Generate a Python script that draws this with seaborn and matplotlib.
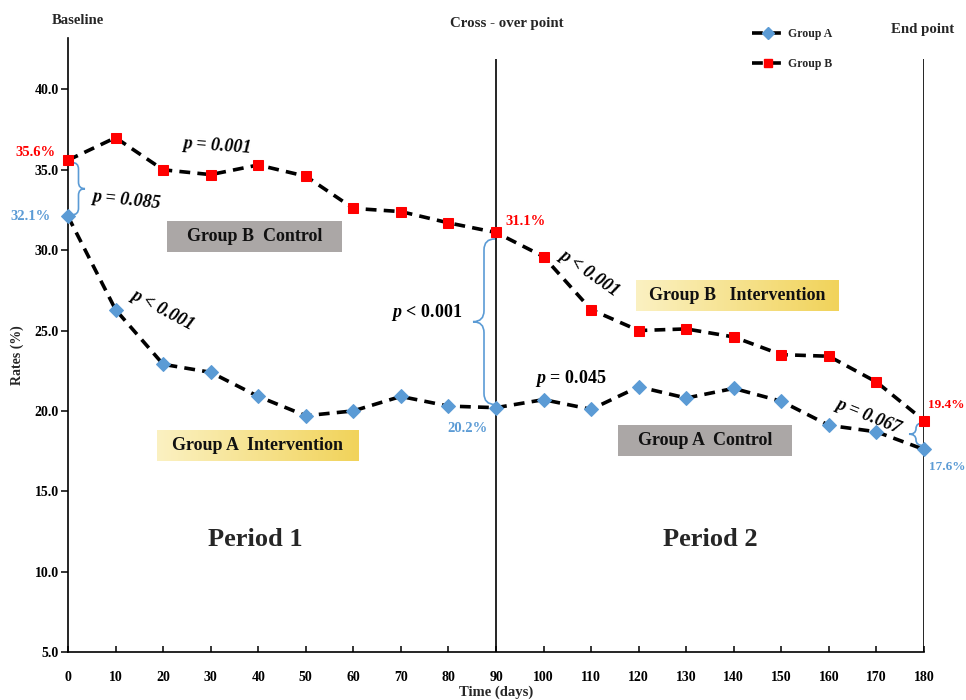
import numpy as np
import pandas as pd
import matplotlib
matplotlib.use("Agg")
import matplotlib.pyplot as plt
import seaborn as sns
from matplotlib.path import Path
from matplotlib.patches import PathPatch, Rectangle
from matplotlib.lines import Line2D
from matplotlib.colors import LinearSegmentedColormap

# ---- data -------------------------------------------------------------
days = [0, 10, 20, 30, 40, 50, 60, 70, 80, 90,
        100, 110, 120, 130, 140, 150, 160, 170, 180]
group_a = [32.1, 26.3, 22.9, 22.4, 20.9, 19.7, 20.0, 20.9, 20.3, 20.2,
           20.7, 20.1, 21.5, 20.8, 21.4, 20.6, 19.1, 18.7, 17.6]
group_b = [35.6, 37.0, 35.0, 34.7, 35.3, 34.6, 32.6, 32.4, 31.7, 31.1,
           29.6, 26.3, 25.0, 25.1, 24.6, 23.5, 23.4, 21.8, 19.4]
group_names = ["Group A", "Group B"]
y_ticks = [5.0, 10.0, 15.0, 20.0, 25.0, 30.0, 35.0, 40.0]

df = pd.DataFrame({
    "day": days * 2,
    "rate": group_a + group_b,
    "group": [group_names[0]] * len(days) + [group_names[1]] * len(days),
})

BLUE = "#5B9BD5"
RED = "#FF0000"
SERIF = "Liberation Serif"

sns.set_theme(style="ticks")
plt.rcParams["font.family"] = [SERIF, "DejaVu Serif"]
plt.rcParams["font.weight"] = "bold"
plt.rcParams["mathtext.fontset"] = "custom"
plt.rcParams["mathtext.bfit"] = "Liberation Serif:italic:bold"
plt.rcParams["mathtext.it"] = "Liberation Serif:italic:bold"
plt.rcParams["mathtext.rm"] = "Liberation Serif:bold"

fig = plt.figure(figsize=(9.66, 7.0), dpi=100)
ax = fig.add_axes([68 / 966, 1 - 652 / 700, (924 - 68) / 966, (652 - 38) / 700])

styles = {
    "Group A": dict(marker="D", markersize=7.5, color=BLUE),
    "Group B": dict(marker="s", markersize=7.5, color=RED),
}
for name in group_names:
    st = styles[name]
    sub = df[df["group"] == name]
    sns.lineplot(data=sub, x="day", y="rate", ax=ax, color="black",
                 linewidth=2.6, marker=st["marker"], markersize=st["markersize"],
                 markerfacecolor=st["color"], markeredgecolor=st["color"],
                 zorder=4, legend=False)
for ln in ax.lines:
    ln.set_dashes((3.0, 2.0))
    ln.set_clip_on(False)

ax.set_xlim(0, 180)
ax.set_ylim(5, 43.2)
ax.set_xticks(days)
ax.set_xticklabels([str(d) for d in days], fontsize=10, fontweight="bold")
ax.set_yticks(y_ticks)
ax.set_yticklabels([f"{v:.1f}" for v in y_ticks], fontsize=10, fontweight="bold")
ax.tick_params(axis="x", direction="in", length=4, width=1.1, pad=14, colors="black")
ax.tick_params(axis="y", direction="out", length=5, width=1.1, pad=1.5, colors="black")
ax.set_xlabel("")
ax.set_ylabel("")
for side in ("top", "right"):
    ax.spines[side].set_visible(False)
for side in ("left", "bottom"):
    ax.spines[side].set_linewidth(1.2)
    ax.spines[side].set_color("black")

# period boundaries
ax.vlines([90, 180], 5, 41.9, colors="black", linewidth=1.2, zorder=3)

# ---- treatment boxes ---------------------------------------------------
gold = LinearSegmentedColormap.from_list("gold", ["#FBF1C2", "#F1D35A"])
grad = np.linspace(0, 1, 256).reshape(1, -1)


def label_box(x0, x1, y0, y1, text, kind):
    if kind == "gray":
        ax.add_patch(Rectangle((x0, y0), x1 - x0, y1 - y0, facecolor="#ABA7A6",
                               edgecolor="none", zorder=1))
    else:
        ax.imshow(grad, cmap=gold, extent=(x0, x1, y0, y1), aspect="auto",
                  zorder=1, interpolation="bicubic")
    ax.text((x0 + x1) / 2, (y0 + y1) / 2, text, ha="center", va="center",
            fontsize=13, fontweight="bold", color="#111111", zorder=2)


label_box(20.8, 57.6, 29.9, 31.8, "Group B  Control", "gray")
label_box(18.7, 61.0, 16.9, 18.8, "Group A  Intervention", "gold")
label_box(119.4, 161.9, 26.2, 28.1, "Group B   Intervention", "gold")
label_box(115.6, 152.2, 17.2, 19.1, "Group A  Control", "gray")
ax.set_xlim(0, 180)
ax.set_ylim(5, 43.2)

# ---- braces ------------------------------------------------------------
def brace(x, ya, yb, width_px, direction, gap_px=0):
    """Curly brace between (x, ya) and (x, yb); tip points left (-1) or right (+1)."""
    to_disp = ax.transData
    (px, pa), = to_disp.transform([(x, ya)])
    (_, pb), = to_disp.transform([(x, yb)])
    px = px + direction * gap_px
    h = width_px / 2.0
    s = np.sign(pb - pa)
    r = min(h, abs(pb - pa) / 4)
    pm = (pa + pb) / 2
    xm = px + direction * h
    xt = px + direction * width_px
    verts = [(px, pa), (xm, pa), (xm, pa + s * r),
             (xm, pm - s * r), (xm, pm), (xt, pm),
             (xm, pm), (xm, pm + s * r),
             (xm, pb - s * r), (xm, pb), (px, pb)]
    codes = [Path.MOVETO, Path.CURVE3, Path.CURVE3,
             Path.LINETO, Path.CURVE3, Path.CURVE3,
             Path.CURVE3, Path.CURVE3,
             Path.LINETO, Path.CURVE3, Path.CURVE3]
    dverts = to_disp.inverted().transform(verts)
    ax.add_patch(PathPatch(Path(dverts, codes), facecolor="none", edgecolor=BLUE,
                           linewidth=1.2, zorder=3, clip_on=False))


brace(days[0], group_b[0] - 0.15, group_a[0] + 0.1, 13, +1, gap_px=4)
brace(days[9], group_b[9] - 0.4, group_a[9] + 0.2, 22, -1, gap_px=1)
brace(days[-1], group_b[-1] - 0.15, group_a[-1] + 0.25, 14, -1, gap_px=1)

# ---- value labels ------------------------------------------------------
def value_label(x, y, dx, dy, color, ha, size=10.5):
    ax.annotate(f"{y:.1f}%", (x, y), xytext=(dx, dy), textcoords="offset pixels",
                ha=ha, va="center", fontsize=size, fontweight="bold", color=color,
                annotation_clip=False, zorder=5)


value_label(days[0], group_b[0], -12, 8, RED, "right")
value_label(days[0], group_a[0], -17, 0, BLUE, "right")
value_label(days[9], group_b[9], 9, 11, RED, "left")
value_label(days[9], group_a[9], -8, -21, BLUE, "right")
value_label(days[-1], group_b[-1], 4, 16, RED, "left", size=9.5)
value_label(days[-1], group_a[-1], 5, -18, BLUE, "left", size=9.5)

# ---- p values ----------------------------------------------------------
def pval(x, y, text, rot=0.0, italic=True, size=13):
    ax.text(x, y, text, ha="center", va="center", rotation=rot,
            rotation_mode="anchor", fontsize=size, fontweight="bold",
            fontstyle="italic" if italic else "normal",
            color="black", zorder=5)


pval(31.3, 36.5, "p = 0.001", -4)
pval(12.2, 33.1, "p = 0.085", -6)
pval(19.8, 26.3, "p < 0.001", -28)
pval(75.3, 26.1, r"$\mathbfit{p}$ < 0.001", 0, italic=False)
pval(105.8, 22.0, r"$\mathbfit{p}$ = 0.045", 0, italic=False)
pval(109.6, 28.6, "p < 0.001", -35)
pval(168.2, 19.7, "p = 0.067", -22)

# ---- period titles -----------------------------------------------------
ax.text(39.3, 12.0, "Period 1", ha="center", va="center", fontsize=19, fontweight="bold")
ax.text(135.0, 12.0, "Period 2", ha="center", va="center", fontsize=19, fontweight="bold")

# ---- headers and axis titles ---------------------------------------------
fig.text(78 / 966, 1 - 20 / 700, "Baseline", ha="center", va="center",
         fontsize=10.5, fontweight="bold")
fig.text(507 / 966, 1 - 24 / 700, "Cross - over point", ha="center", va="center",
         fontsize=10.7, fontweight="bold")
fig.text(923 / 966, 1 - 30 / 700, "End point", ha="center", va="center",
         fontsize=10.7, fontweight="bold")
fig.text(17 / 966, 1 - 355 / 700, "Rates (%)", rotation=90, ha="center", va="center",
         fontsize=10, fontweight="bold")
fig.text(496 / 966, 1 - 692 / 700, "Time (days)", ha="center", va="center",
         fontsize=10.5, fontweight="bold")

# ---- legend ------------------------------------------------------------
handles = []
for name in group_names:
    st = styles[name]
    h = Line2D([], [], color="black", linewidth=2.6, marker=st["marker"],
               markersize=6, markerfacecolor=st["color"], markeredgecolor=st["color"])
    h.set_dashes((3.0, 2.0))
    handles.append(h)
fig.legend(handles, group_names, loc="upper left",
           bbox_to_anchor=(746 / 966, 1 - 22 / 700), frameon=False,
           prop={"family": SERIF, "weight": "bold", "size": 8.5},
           handlelength=2.8, handletextpad=0.3, labelspacing=1.55, borderpad=0)

fig.savefig("out.png", dpi=100)
